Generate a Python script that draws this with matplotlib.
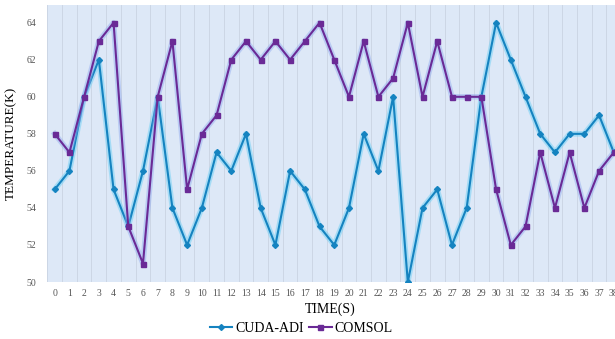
import matplotlib
matplotlib.use('Agg')
from matplotlib import pyplot as plt
from matplotlib.lines import Line2D
import matplotlib.patheffects as pe
import numpy as np

time_s = list(range(39))
cuda_adi = [55, 56, 60, 62, 55, 53, 56, 60, 54, 52, 54, 57, 56, 58, 54, 52, 56, 55, 53, 52,
            54, 58, 56, 60, 50, 54, 55, 52, 54, 60, 64, 62, 60, 58, 57, 58, 58, 59, 57]
comsol = [58, 57, 60, 63, 64, 53, 51, 60, 63, 55, 58, 59, 62, 63, 62, 63, 62, 63, 64, 62,
          60, 63, 60, 61, 64, 60, 63, 60, 60, 60, 55, 52, 53, 57, 54, 57, 54, 56, 57]
y_ticks = [50, 52, 54, 56, 58, 60, 62, 64]

plt.rcParams['font.family'] = ['Liberation Serif', 'DejaVu Serif']

blue = '#1583c0'
purple = '#6a2a96'

figure = plt.figure(figsize=(6.15, 3.39), dpi=100)
ax = figure.add_axes([0.077, 0.168, 0.933, 0.817])
ax.set_facecolor('#dde8f7')

# light vertical separators between categories
for b in np.arange(-0.5, 39.5, 1):
    ax.axvline(b, color='#c9d3e2', lw=0.6, zorder=0)

glow_b = [pe.Stroke(linewidth=4.0, foreground='#6fd0f5', alpha=0.5), pe.Normal()]
glow_p = [pe.Stroke(linewidth=4.0, foreground='#8fa9ef', alpha=0.45), pe.Normal()]

# lines with soft glow, markers drawn on top
ax.plot(time_s, cuda_adi, color=blue, lw=1.5, path_effects=glow_b, zorder=3)
ax.plot(time_s, cuda_adi, ls='none', color=blue, marker='D', ms=3.0, zorder=3.5)
ax.plot(time_s, comsol, color=purple, lw=1.5, path_effects=glow_p, zorder=4)
ax.plot(time_s, comsol, ls='none', color=purple, marker='s', ms=3.6, zorder=4.5)

ax.set_xlim(-0.5, 38.5)
ax.set_ylim(50, 64.95)
ax.set_xticks(time_s)
ax.set_xticklabels([str(t) for t in time_s], fontsize=7, color='#555555')
ax.set_yticks(y_ticks)
ax.set_yticklabels([str(v) for v in y_ticks], fontsize=7, color='#555555')
ax.tick_params(axis='x', length=0, pad=5)
ax.tick_params(axis='y', length=0, pad=8)
for s in ax.spines.values():
    s.set_visible(False)

ax.set_xlabel('TIME(S)', fontsize=10, labelpad=3, x=0.5 * 0.985)
ax.set_ylabel('TEMPERATURE(K)', fontsize=9.5, labelpad=7)

handles = [Line2D([], [], color=blue, lw=1.5, marker='D', ms=3.0),
           Line2D([], [], color=purple, lw=1.5, marker='s', ms=3.6)]
figure.legend(handles, ['CUDA-ADI', 'COMSOL'], loc='lower center',
              bbox_to_anchor=(0.49, -0.025), ncol=2, frameon=False,
              fontsize=10, handlelength=1.6, handletextpad=0.2, columnspacing=0.4)

plt.savefig('out.png', dpi=100)
